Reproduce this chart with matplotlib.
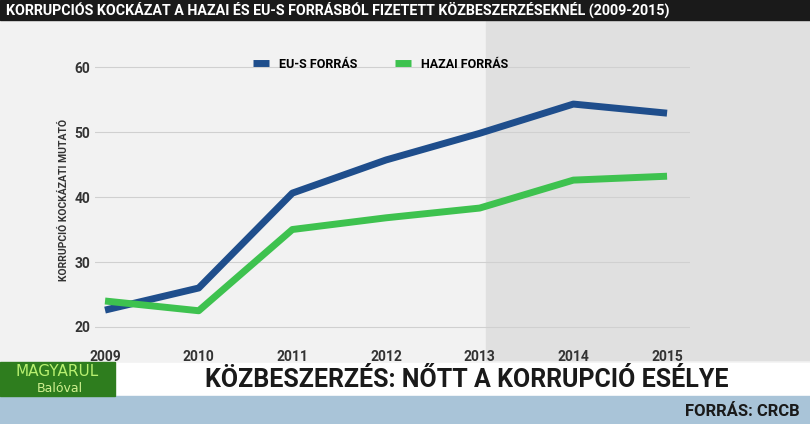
import matplotlib
matplotlib.use("Agg")
import matplotlib.pyplot as plt
from matplotlib.patches import Rectangle

years = [2009, 2010, 2011, 2012, 2013, 2014, 2015]
eu_forras = [22.6, 26.0, 40.6, 45.7, 49.8, 54.3, 52.9]
hazai_forras = [24.0, 22.5, 35.0, 36.8, 38.3, 42.6, 43.2]
yticks = [20, 30, 40, 50, 60]

W, H = 810, 424
fig = plt.figure(figsize=(W/100, H/100), dpi=100)
fig.patch.set_facecolor("#f2f2f2")

fig.patches.append(Rectangle((0.60, 0.15), 0.40, 0.80, transform=fig.transFigure,
                             color="#e0e0e0", zorder=0))
fig.patches.append(Rectangle((0, 1-20/H), 1, 20/H, transform=fig.transFigure, color="#1a1a1a", zorder=1))
fig.text(0.008, 1-10/H, "KORRUPCIÓS KOCKÁZAT A HAZAI ÉS EU-S FORRÁSBÓL FIZETETT KÖZBESZERZÉSEKNÉL (2009-2015)",
         color="white", fontsize=10.3, fontweight="bold", va="center", ha="left", family="Roboto")

ax = fig.add_axes([95/W, 1-345/H, 595/W, (345-55)/H])
ax.set_zorder(5)
ax.set_facecolor("none")
ax.plot(years, eu_forras, color="#1f4e8c", lw=5, solid_capstyle="butt", label="EU-S FORRÁS")
ax.plot(years, hazai_forras, color="#3ec24f", lw=5, solid_capstyle="butt", label="HAZAI FORRÁS")
ax.set_xlim(2008.893, 2015.245)
ax.set_ylim(17.23, 61.85)
ax.set_yticks(yticks)
ax.set_xticks(years)
ax.grid(axis="y", color="#d0d0d0", lw=0.8)
for s in ax.spines.values():
    s.set_visible(False)
ax.tick_params(length=0, labelsize=10, colors="#333333")
for t in ax.get_xticklabels() + ax.get_yticklabels():
    t.set_fontweight("bold"); t.set_family("Roboto")
ax.set_ylabel("KORRUPCIÓ KOCKÁZATI MUTATÓ", fontsize=7.5, fontweight="bold", color="#333333", family="Roboto")
ax.legend(loc="upper center", bbox_to_anchor=(0.48, 1.03), ncol=2, frameon=False,
          handlelength=1.3, columnspacing=3, prop={"weight": "bold", "size": 9, "family": "Roboto"})

fig.patches.append(Rectangle((0, 1-395/H), 1, 32/H, transform=fig.transFigure, color="white", zorder=1))
fig.patches.append(Rectangle((0, 1-396/H), 115/W, 34/H, transform=fig.transFigure, color="#2e7d1e", zorder=2))
fig.text(57/W, 1-372/H, "MAGYARUL", color="#b8f070", fontsize=11, ha="center", va="center", zorder=3)
fig.text(60/W, 1-388/H, "Balóval", color="#d0f090", fontsize=9, ha="center", va="center", zorder=3)
fig.text(205/W, 1-380/H, "KÖZBESZERZÉS: NŐTT A KORRUPCIÓ ESÉLYE", color="#1a1a1a", fontsize=18,
         fontweight="bold", ha="left", va="center", zorder=3, family="Roboto")
fig.patches.append(Rectangle((0, 0), 1, 28/H, transform=fig.transFigure, color="#a9c4d8", zorder=1))
fig.text(800/W, 1-411/H, "FORRÁS: CRCB", color="#1a1a1a", fontsize=12, fontweight="bold",
         ha="right", va="center", zorder=3, family="Roboto")

fig.savefig("out.png", dpi=100, facecolor=fig.get_facecolor())
